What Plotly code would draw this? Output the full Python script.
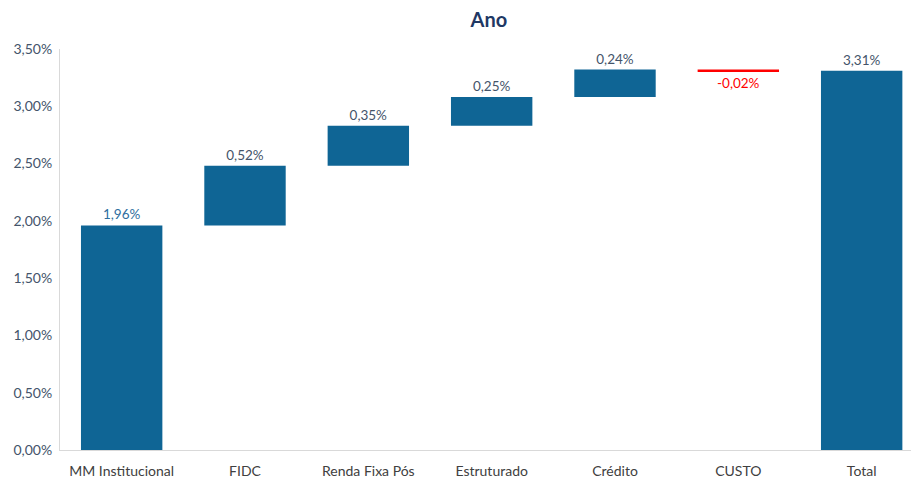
import plotly.graph_objects as go

# Contribution to the year's return, in percentage points
categories = ["MM Institucional", "FIDC", "Renda Fixa Pós", "Estruturado", "Crédito", "CUSTO", "Total"]
values = [1.96, 0.52, 0.35, 0.25, 0.24, -0.02, 3.31]
measures = ["relative", "relative", "relative", "relative", "relative", "relative", "absolute"]
y_ticks = [0, 0.5, 1.0, 1.5, 2.0, 2.5, 3.0, 3.5]

BLUE = "#0F6595"
RED = "#FF0000"
TEXT = "#44546A"


def pct(v):
    return f"{v:.2f}%".replace(".", ",")


labels = [pct(v) for v in values]
label_colors = ["#2E6E9E"] + [TEXT] * 4 + [RED] + [TEXT]

fig = go.Figure(go.Waterfall(
    x=categories,
    y=values,
    measure=measures,
    text=labels,
    textposition="outside",
    textfont=dict(color=label_colors, size=13.5, family="Lato, sans-serif"),
    increasing=dict(marker=dict(color=BLUE)),
    decreasing=dict(marker=dict(color=RED)),
    totals=dict(marker=dict(color=BLUE)),
    connector=dict(visible=False),
    width=0.66,
    cliponaxis=False,
))

fig.update_layout(
    width=911,
    height=479,
    margin=dict(l=60, r=0, t=49, b=27),
    paper_bgcolor="white",
    plot_bgcolor="white",
    separators=",.",
    showlegend=False,
    title=dict(
        text="<b>Ano</b>",
        x=0.5366, xanchor="center",
        y=0.958, yanchor="middle",
        font=dict(size=20, color="#1F3864", family="Lato, sans-serif"),
    ),
    font=dict(family="Lato, sans-serif", color=TEXT, size=13),
)

fig.update_xaxes(
    range=[-0.5, 6.4],
    showline=True, linecolor="#D9D9D9", linewidth=1,
    showgrid=False, ticks="",
    ticklabelstandoff=8,
    tickfont=dict(size=14, color="#404040"),
)
fig.update_yaxes(
    range=[0, 3.5],
    tickvals=y_ticks,
    ticktext=[pct(v) for v in y_ticks],
    showline=True, linecolor="#D9D9D9", linewidth=1,
    showgrid=False, zeroline=False, ticks="",
    ticklabelstandoff=4,
    tickfont=dict(size=14, color=TEXT),
)

fig.write_html("out.html")
